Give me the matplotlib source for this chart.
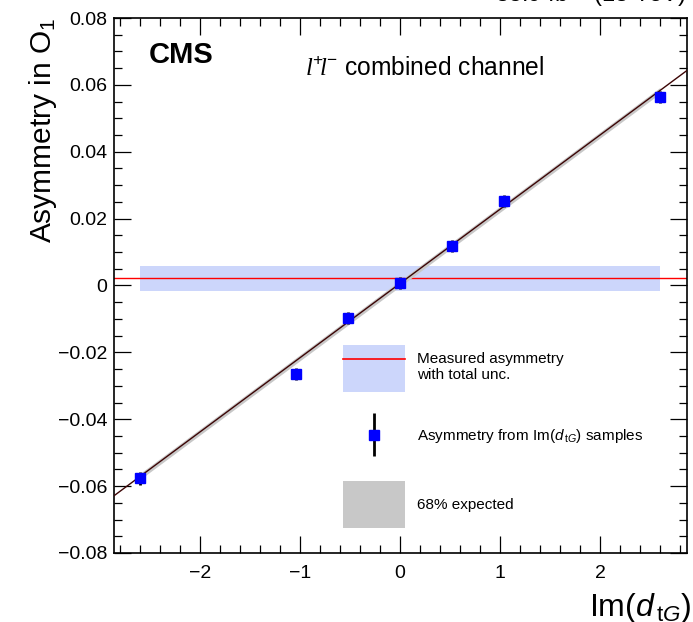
import matplotlib
matplotlib.use('Agg')
import matplotlib.pyplot as plt
from matplotlib.patches import Patch
from matplotlib.lines import Line2D
from matplotlib.legend import Legend
from matplotlib.container import ErrorbarContainer
from matplotlib.legend_handler import HandlerErrorbar
from matplotlib.ticker import MultipleLocator

plt.rcParams['font.family'] = ['Liberation Sans', 'DejaVu Sans']
plt.rcParams['mathtext.fontset'] = 'custom'
plt.rcParams['mathtext.rm'] = 'Liberation Sans'
plt.rcParams['mathtext.it'] = 'Liberation Sans:italic'
plt.rcParams['mathtext.bf'] = 'Liberation Sans:bold'
plt.rcParams['mathtext.sf'] = 'Liberation Serif:italic'

# Asymmetry from Im(dtG) samples
im_dtg = [-2.6, -1.04, -0.52, 0.0, 0.52, 1.04, 2.6]
asym = [-0.0577, -0.0266, -0.0098, 0.0008, 0.0119, 0.0254, 0.0564]
asym_err = [0.0019, 0.0018, 0.0018, 0.0018, 0.0018, 0.0018, 0.0019]

# linear fit and 68% expected band
fit_slope = 0.0222
fit_intercept = 0.0006
band_x = [-2.6, 2.6]
band_halfwidth = 0.0009

# measured asymmetry with total uncertainty
measured = 0.0023
measured_lo = -0.0017
measured_hi = 0.0059
measured_x = [-2.6, 2.6]

xticks = [-2, -1, 0, 1, 2]
yticks = [-0.08, -0.06, -0.04, -0.02, 0.0, 0.02, 0.04, 0.06, 0.08]
ytick_labels = ['\u22120.08', '\u22120.06', '\u22120.04', '\u22120.02', '0',
                '0.02', '0.04', '0.06', '0.08']

fig = plt.figure(figsize=(6.93, 6.22), dpi=100)
ax = fig.add_axes([0.1645, 0.111, 0.8268, 0.86])

# measured band + line
ax.fill_between(measured_x, [measured_lo] * 2, [measured_hi] * 2,
                color='#ccd6fb', lw=0, zorder=1)
ax.axhline(measured, color='#ff0000', lw=1.0, zorder=2)

# expected band around fit
band_lo = [fit_slope * x + fit_intercept - band_halfwidth for x in band_x]
band_hi = [fit_slope * x + fit_intercept + band_halfwidth for x in band_x]
ax.fill_between(band_x, band_lo, band_hi, color='#c8c8c8', lw=0, zorder=3)
ax.axline((0, fit_intercept), slope=fit_slope, color='#3c0505', lw=1.0, zorder=4)

eb = ax.errorbar(im_dtg, asym, yerr=asym_err, fmt='s', color='#0000ff',
                 ms=7.5, mec='#0000ff', ecolor='black', elinewidth=2.0,
                 capsize=0, zorder=5)

ax.set_xlim(-2.86, 2.87)
ax.set_ylim(-0.08, 0.08)
ax.set_xticks(xticks)
ax.set_xticklabels([str(t).replace('-', '\u2212') for t in xticks])
ax.set_yticks(yticks)
ax.set_yticklabels(ytick_labels)
ax.xaxis.set_minor_locator(MultipleLocator(0.2))
ax.yaxis.set_minor_locator(MultipleLocator(0.005))
ax.tick_params(which='both', direction='in', top=True, right=True,
               labelsize=14, width=0.9)
ax.tick_params(which='major', length=12)
ax.tick_params(which='minor', length=6)
ax.tick_params(axis='x', pad=9)
ax.tick_params(axis='y', pad=5)
for s in ax.spines.values():
    s.set_linewidth(1.2)

# legend: one entry per box so each row can be placed on its own
meas_handle = (Patch(facecolor='#ccd6fb', edgecolor='none'),
               Line2D([], [], color='#ff0000', lw=1.2, snap=True))
exp_handle = Patch(facecolor='#c8c8c8', edgecolor='none')
entries = [
    (meas_handle, 'Measured asymmetry\nwith total unc.', 0.345, 4.36),
    (eb, r'Asymmetry from Im($d_{\,\mathrm{t}G}$) samples', 0.2187, 0.7),
    (exp_handle, '68% expected', 0.09, 4.36),
]
for handle, label, yanchor, hh in entries:
    leg = Legend(ax, [handle], [label],
                 handler_map={ErrorbarContainer: HandlerErrorbar(yerr_size=1.4)},
                 loc='center left', bbox_to_anchor=(0.3997, yanchor),
                 frameon=False, fontsize=11, handlelength=4.05,
                 handleheight=hh, handletextpad=0.8,
                 borderpad=0, borderaxespad=0, labelspacing=0.35)
    ax.add_artist(leg)

ax.text(0.333, 0.905, r'$\mathsf{l}^{+}\!\mathsf{l}^{-}$ combined channel',
        transform=ax.transAxes, fontsize=17.7, va='center', ha='left')
ax.text(0.06, 0.93, 'CMS', transform=ax.transAxes, fontsize=21,
        fontweight='bold', va='center', ha='left')

fig.text(0.99, 0.985, r'35.9 fb$^{-1}$ (13 TeV)', fontsize=17,
         ha='right', va='bottom')
fig.text(0.062, 0.971, r'Asymmetry in O$_{1}$', fontsize=21.5, rotation=90,
         ha='center', va='top')
fig.text(0.997, 0.01, r'Im($d_{\,\mathrm{t}G}$)', fontsize=23,
         ha='right', va='baseline')

fig.savefig('out.png', dpi=100)
